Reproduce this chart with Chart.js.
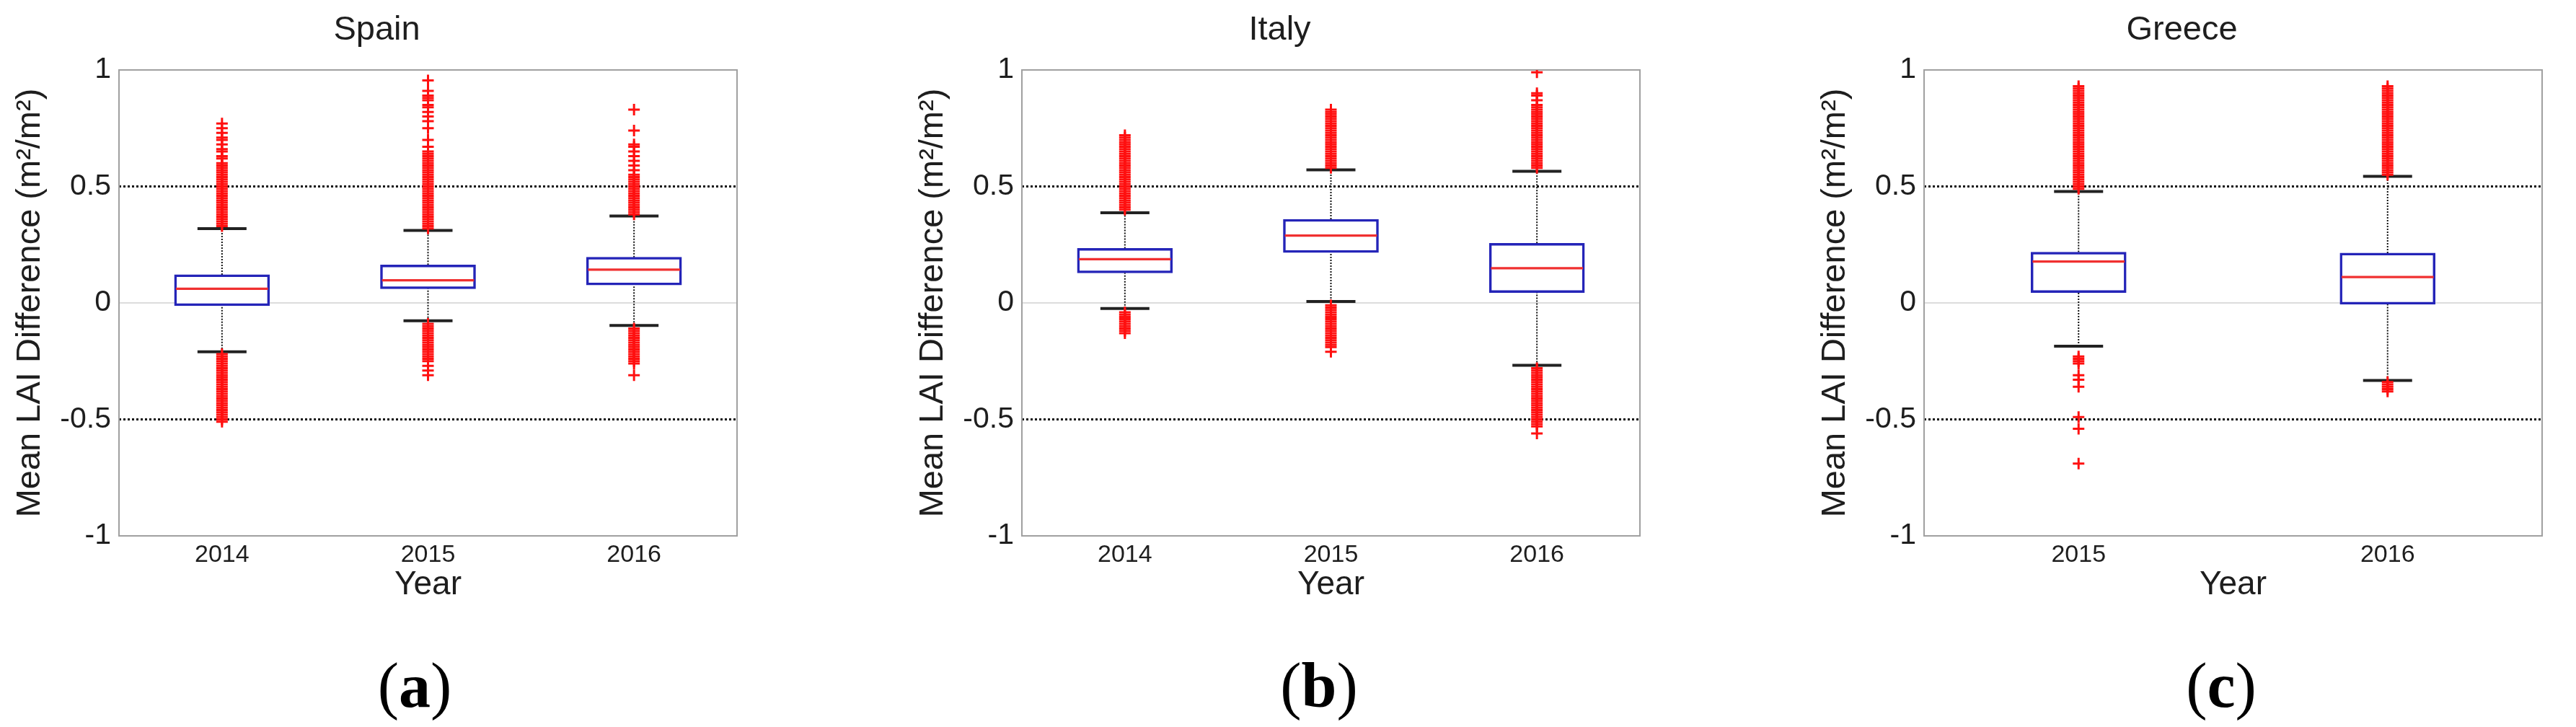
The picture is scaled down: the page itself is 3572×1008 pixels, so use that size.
<!DOCTYPE html>
<html>
<head>
<meta charset="utf-8">
<script src="https://cdn.jsdelivr.net/npm/chart.js@4.4.0/dist/chart.umd.min.js"></script>
<style>
  html, body { margin: 0; padding: 0; background: #fff; }
  body { width: 3572px; height: 1008px; position: relative; overflow: hidden; }
  .panel { position: absolute; top: 0; width: 1060px; height: 1008px; }
  .tag { position: absolute; top: 901px; width: 200px; margin-left: -100px; text-align: center;
         font-family: "Liberation Serif", "DejaVu Serif", serif; font-size: 88px; line-height: 100px; color: #000; }
  .tag b { font-weight: bold; }
</style>
</head>
<body>
<div class="panel" style="left:0px"><canvas id="chart-spain" width="1060" height="1008"></canvas></div>
<div class="panel" style="left:1252px"><canvas id="chart-italy" width="1060" height="1008"></canvas></div>
<div class="panel" style="left:2503px"><canvas id="chart-greece" width="1060" height="1008"></canvas></div>
<div class="tag" style="left:575px">(<b>a</b>)</div>
<div class="tag" style="left:1829px">(<b>b</b>)</div>
<div class="tag" style="left:3080px">(<b>c</b>)</div>
<script>
(function(window, undefined){

  var yTicks = [-1, -0.5, 0, 0.5, 1];

  // Spain
  var spainYears = ['2014', '2015', '2016'];
  var spainQ1 = [-0.012, 0.061, 0.077];
  var spainMedian = [0.061, 0.097, 0.143];
  var spainQ3 = [0.121, 0.163, 0.196];
  var spainLowWhisker = [-0.21, -0.077, -0.097];
  var spainHighWhisker = [0.319, 0.311, 0.373];
  var spainOutUp = [
    [0.33,0.34,0.35,0.36,0.37,0.38,0.39,0.40,0.41,0.42,0.43,0.44,0.45,0.46,0.47,0.48,0.49,0.50,0.51,0.52,0.53,0.54,0.55,0.56,0.57,0.58,0.59,0.60,0.62,0.63,0.65,0.66,0.68,0.70,0.71,0.73,0.75,0.77],
    [0.32,0.33,0.34,0.35,0.36,0.37,0.38,0.39,0.40,0.41,0.42,0.43,0.44,0.45,0.46,0.47,0.48,0.49,0.50,0.51,0.52,0.53,0.54,0.55,0.56,0.57,0.58,0.59,0.60,0.61,0.62,0.63,0.64,0.65,0.67,0.70,0.75,0.78,0.80,0.82,0.84,0.85,0.87,0.88,0.89,0.91,0.955],
    [0.38,0.39,0.40,0.41,0.42,0.43,0.44,0.45,0.46,0.47,0.48,0.49,0.50,0.51,0.52,0.53,0.54,0.55,0.57,0.59,0.61,0.63,0.65,0.67,0.68,0.74,0.83]
  ];
  var spainOutDown = [
    [-0.22,-0.23,-0.24,-0.25,-0.26,-0.27,-0.28,-0.29,-0.30,-0.31,-0.32,-0.33,-0.34,-0.35,-0.36,-0.37,-0.38,-0.39,-0.40,-0.41,-0.42,-0.43,-0.44,-0.45,-0.46,-0.47,-0.48,-0.49,-0.50,-0.51],
    [-0.09,-0.10,-0.11,-0.12,-0.13,-0.14,-0.15,-0.16,-0.17,-0.18,-0.19,-0.20,-0.21,-0.22,-0.23,-0.24,-0.25,-0.27,-0.29,-0.31],
    [-0.11,-0.12,-0.13,-0.14,-0.15,-0.16,-0.17,-0.18,-0.19,-0.20,-0.21,-0.22,-0.23,-0.24,-0.25,-0.26,-0.31]
  ];

  // Italy
  var italyYears = ['2014', '2015', '2016'];
  var italyQ1 = [0.129, 0.216, 0.044];
  var italyMedian = [0.188, 0.289, 0.149];
  var italyQ3 = [0.234, 0.359, 0.256];
  var italyLowWhisker = [-0.024, 0.006, -0.268];
  var italyHighWhisker = [0.387, 0.571, 0.565];
  var italyOutUp = [
    [0.40,0.41,0.42,0.43,0.44,0.45,0.46,0.47,0.48,0.49,0.50,0.51,0.52,0.53,0.54,0.55,0.56,0.57,0.58,0.59,0.60,0.61,0.62,0.63,0.64,0.65,0.66,0.67,0.68,0.69,0.70,0.71,0.72],
    [0.58,0.59,0.60,0.61,0.62,0.63,0.64,0.65,0.66,0.67,0.68,0.69,0.70,0.71,0.72,0.73,0.74,0.75,0.76,0.77,0.78,0.79,0.80,0.81,0.82,0.83],
    [0.58,0.59,0.60,0.61,0.62,0.63,0.64,0.65,0.66,0.67,0.68,0.69,0.70,0.71,0.72,0.73,0.74,0.75,0.76,0.77,0.78,0.79,0.80,0.81,0.82,0.83,0.84,0.85,0.87,0.89,0.90,0.99]
  ];
  var italyOutDown = [
    [-0.04,-0.05,-0.06,-0.07,-0.08,-0.09,-0.10,-0.11,-0.12,-0.13],
    [-0.01,-0.02,-0.03,-0.04,-0.05,-0.06,-0.07,-0.08,-0.09,-0.10,-0.11,-0.12,-0.13,-0.14,-0.15,-0.16,-0.17,-0.18,-0.19,-0.21],
    [-0.28,-0.29,-0.30,-0.31,-0.32,-0.33,-0.34,-0.35,-0.36,-0.37,-0.38,-0.39,-0.40,-0.41,-0.42,-0.43,-0.44,-0.45,-0.46,-0.47,-0.48,-0.49,-0.50,-0.51,-0.52,-0.53,-0.56]
  ];

  // Greece
  var greeceYears = ['2015', '2016'];
  var greeceQ1 = [0.044, -0.006];
  var greeceMedian = [0.178, 0.111];
  var greeceQ3 = [0.218, 0.214];
  var greeceLowWhisker = [-0.186, -0.333];
  var greeceHighWhisker = [0.478, 0.543];
  var greeceOutUp = [
    [0.49,0.50,0.51,0.52,0.53,0.54,0.55,0.56,0.57,0.58,0.59,0.60,0.61,0.62,0.63,0.64,0.65,0.66,0.67,0.68,0.69,0.70,0.71,0.72,0.73,0.74,0.75,0.76,0.77,0.78,0.79,0.80,0.81,0.82,0.83,0.84,0.85,0.86,0.87,0.88,0.89,0.90,0.91,0.92,0.93],
    [0.55,0.56,0.57,0.58,0.59,0.60,0.61,0.62,0.63,0.64,0.65,0.66,0.67,0.68,0.69,0.70,0.71,0.72,0.73,0.74,0.75,0.76,0.77,0.78,0.79,0.80,0.81,0.82,0.83,0.84,0.85,0.86,0.87,0.88,0.89,0.90,0.91,0.92,0.93]
  ];
  var greeceOutDown = [
    [-0.23,-0.24,-0.25,-0.26,-0.31,-0.33,-0.36,-0.49,-0.54,-0.69],
    [-0.34,-0.35,-0.36,-0.37,-0.38]
  ];

  var fontFamily = '"Liberation Sans", Arial, sans-serif';
  var textColor = '#1e1e1e';
  var boxBlue = '#2424b8';
  var outlierRed = '#ff1010';

  // grey box round the plot area
  var framePlugin = {
    id: 'frame',
    beforeDatasetsDraw: function (chart) {
      var a = chart.chartArea;
      var ctx = chart.ctx;
      ctx.save();
      ctx.strokeStyle = '#a0a0a0';
      ctx.lineWidth = 2;
      ctx.strokeRect(a.left, a.top, a.right - a.left, a.bottom - a.top);
      ctx.restore();
    }
  };

  function pointsAt (years, values) {
    var pts = [];
    for (var i = 0; i < years.length; i++) {
      for (var j = 0; j < values[i].length; j++) {
        pts.push({x: years[i], y: values[i][j]});
      }
    }
    return pts;
  }

  function whiskerLines (years, q1, q3, lo, hi) {
    var pts = [];
    for (var i = 0; i < years.length; i++) {
      pts.push({x: years[i], y: q3[i]}, {x: years[i], y: hi[i]}, {x: years[i], y: null});
      pts.push({x: years[i], y: lo[i]}, {x: years[i], y: q1[i]}, {x: years[i], y: null});
    }
    return pts;
  }

  function createChart (id, title, years, q1, median, q3, lo, hi, outUp, outDown) {
    var caps = [];
    for (var i = 0; i < years.length; i++) {
      caps.push({x: years[i], y: hi[i]}, {x: years[i], y: lo[i]});
    }

    var data = {
      labels: years,
      datasets: [
        {
          type: 'line',
          data: whiskerLines(years, q1, q3, lo, hi),
          borderColor: '#111',
          borderWidth: 2,
          borderDash: [2, 2],
          pointRadius: 0,
          spanGaps: false,
          order: 5
        },
        {
          type: 'line',
          data: caps,
          showLine: false,
          pointStyle: 'line',
          pointRadius: 34,
          pointBorderWidth: 4,
          pointBorderColor: '#222',
          order: 4
        },
        {
          type: 'bar',
          data: q1.map(function (v, k) { return [v, q3[k]]; }),
          backgroundColor: '#fff',
          borderColor: boxBlue,
          borderWidth: 3.5,
          borderSkipped: false,
          barThickness: 132,
          grouped: false,
          order: 3
        },
        {
          type: 'bar',
          data: median.map(function (v) { return [v - 0.004, v + 0.004]; }),
          backgroundColor: '#f03030',
          borderWidth: 0,
          barThickness: 127,
          grouped: false,
          order: 2
        },
        {
          type: 'line',
          data: pointsAt(years, outUp).concat(pointsAt(years, outDown)),
          showLine: false,
          pointStyle: 'cross',
          pointRadius: 8,
          pointBorderWidth: 3,
          pointBorderColor: outlierRed,
          order: 1
        }
      ]
    };

    var options = {
      responsive: false,
      animation: false,
      events: [],
      layout: { padding: { left: 0, right: 15, top: 0, bottom: 169 } },
      plugins: {
        legend: { display: false },
        tooltip: { enabled: false },
        title: {
          display: true,
          text: title,
          color: textColor,
          font: { family: fontFamily, size: 47, weight: 'normal' },
          padding: { top: 14, bottom: 26.6 }
        }
      },
      scales: {
        x: {
          type: 'category',
          offset: true,
          grid: { display: false, drawTicks: false },
          border: { display: false },
          ticks: { color: textColor, font: { family: fontFamily, size: 34 }, padding: 6 },
          title: {
            display: true,
            text: 'Year',
            color: textColor,
            font: { family: fontFamily, size: 46 },
            padding: { top: 0, bottom: 0 }
          },
          afterFit: function (scale) { scale.height = 96; }
        },
        y: {
          min: -1,
          max: 1,
          afterBuildTicks: function (scale) {
            scale.ticks = yTicks.map(function (v) { return {value: v}; });
          },
          ticks: {
            color: textColor,
            font: { family: fontFamily, size: 41 },
            padding: 11,
            callback: function (v) { return String(v); }
          },
          grid: {
            drawTicks: false,
            color: function (c) {
              var v = c.tick ? c.tick.value : null;
              if (v === 0) return '#dcdcdc';
              if (v === 0.5 || v === -0.5) return '#111';
              return 'rgba(0,0,0,0)';
            },
            lineWidth: function (c) {
              return c.tick && Math.abs(c.tick.value) === 0.5 ? 3 : 2;
            }
          },
          border: {
            display: false,
            dash: function (c) {
              return c.tick && Math.abs(c.tick.value) === 0.5 ? [3, 3] : [];
            }
          },
          title: {
            display: true,
            text: 'Mean LAI Difference (m²/m²)',
            color: textColor,
            font: { family: fontFamily, size: 47 },
            padding: { top: 14, bottom: 0 }
          },
          afterFit: function (scale) { scale.width = 165; }
        }
      }
    };

    return new Chart(document.getElementById(id), {type: 'bar', data: data, options: options, plugins: [framePlugin]});
  }

  createChart('chart-spain', 'Spain', spainYears, spainQ1, spainMedian, spainQ3, spainLowWhisker, spainHighWhisker, spainOutUp, spainOutDown);
  createChart('chart-italy', 'Italy', italyYears, italyQ1, italyMedian, italyQ3, italyLowWhisker, italyHighWhisker, italyOutUp, italyOutDown);
  createChart('chart-greece', 'Greece', greeceYears, greeceQ1, greeceMedian, greeceQ3, greeceLowWhisker, greeceHighWhisker, greeceOutUp, greeceOutDown);

})(window);
</script>
</body>
</html>
